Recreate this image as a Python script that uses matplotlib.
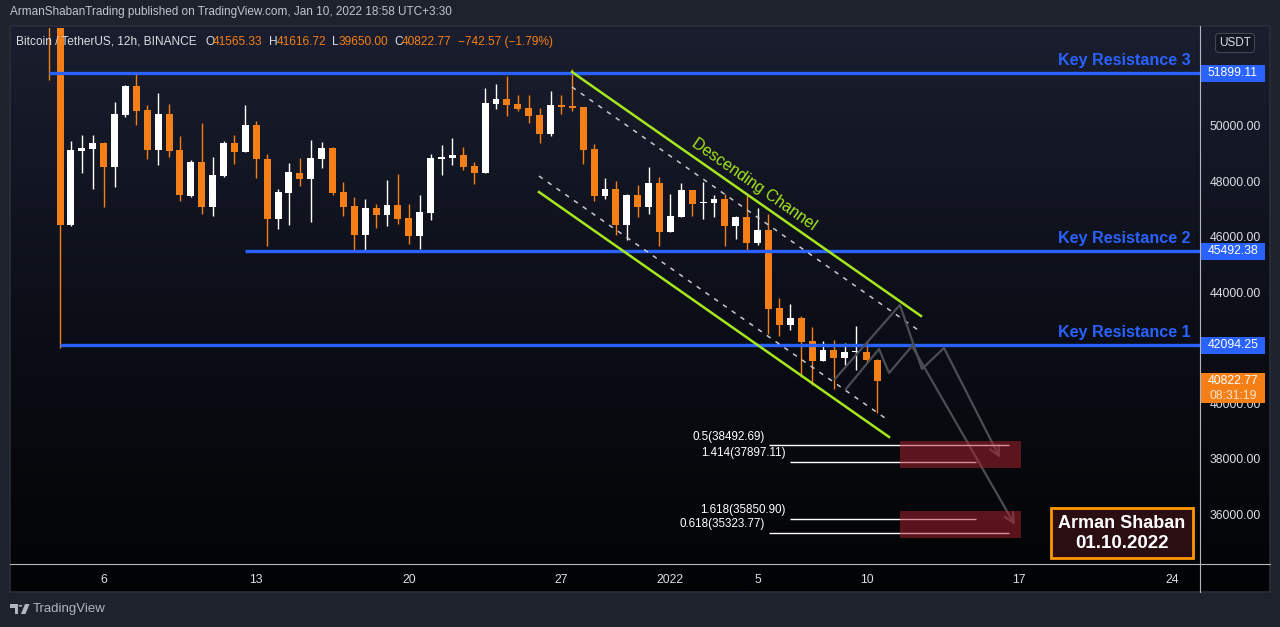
import numpy as np
import matplotlib.pyplot as plt
import matplotlib.transforms as mtransforms
from matplotlib.patches import Rectangle, Polygon, Circle
from matplotlib.colors import LinearSegmentedColormap

plt.rcParams['font.family'] = ['Liberation Sans', 'DejaVu Sans']

# BTCUSDT 12h candles, first candle opens 2021-12-03 12:00
start = np.datetime64('2021-12-03T12:00')
opens = [56500, 53600, 46430, 49100, 49170, 49390, 48520, 50400, 51440, 50580,
         49140, 50430, 49140, 47480, 48700, 47080, 48200, 49390, 49060, 50040,
         48810, 46650, 47590, 48310, 48090, 48810, 49210, 47620, 47120, 46070,
         47050, 46790, 47160, 46690, 46040, 46870, 48810, 48850, 48960, 48560,
         48310, 50790, 50970, 50790, 50650, 50400, 49710, 50760, 50720, 50690,
         49170, 47480, 47730, 46430, 47510, 47080, 47950, 46180, 46720, 47690,
         47230, 47230, 47370, 46400, 46720, 45790, 46250, 43440, 42830, 43080,
         42250, 41530, 41930, 41640, 41840, 41860, 41565.33]
highs = [57300, 53900, 49460, 49680, 49680, 49420, 50870, 51480, 51910, 50760,
         51190, 50790, 49640, 48780, 50110, 48880, 49460, 49680, 50760, 50180,
         48990, 47730, 48670, 48850, 49500, 49420, 49240, 47980, 47440, 47370,
         47190, 48060, 48270, 47190, 47510, 48990, 49320, 49570, 49240, 48700,
         51370, 51510, 51800, 51120, 51120, 50650, 51260, 51120, 52050, 50700,
         49350, 48130, 48020, 47550, 47880, 48520, 48160, 47550, 47950, 47700,
         47980, 47510, 47550, 46760, 47510, 47050, 46830, 43800, 43590, 43150,
         42760, 42250, 42290, 42180, 42790, 42250, 41616.72]
lows = [51650, 42000, 46400, 48320, 47730, 47080, 47800, 50330, 50040, 48810,
        48600, 48880, 47300, 47440, 46830, 46760, 48160, 48630, 49060, 48130,
        45680, 46290, 46430, 47840, 46540, 48490, 47510, 46760, 45460, 45500,
        46330, 46400, 46470, 45750, 45570, 46610, 48240, 48600, 48420, 47910,
        48300, 50610, 50360, 50540, 50110, 49390, 49640, 50430, 50540, 48630,
        47300, 47370, 46070, 45890, 46720, 46830, 45680, 46170, 46710, 46760,
        46650, 46720, 45680, 45930, 45500, 45710, 42510, 42430, 42650, 40960,
        40670, 41520, 40520, 41390, 41210, 41460, 39650.00]
closes = [53600, 46430, 49140, 49210, 49390, 48520, 50430, 51440, 50540, 49140,
          50430, 49100, 47510, 48700, 47080, 48240, 49390, 49060, 50040, 48810,
          46650, 47620, 48340, 48090, 48850, 49210, 47590, 47080, 46070, 47050,
          46790, 47160, 46650, 46040, 46900, 48850, 48880, 48960, 48520, 48310,
          50830, 50970, 50760, 50610, 50360, 49710, 50760, 50690, 50650, 49140,
          47480, 47730, 46430, 47510, 47080, 47950, 46180, 46760, 47690, 47190,
          47260, 47370, 46400, 46720, 45790, 46250, 43410, 42830, 43080, 42220,
          41530, 41930, 41640, 41860, 41860, 41565, 40822.77]

tick_dates = ['2021-12-06', '2021-12-13', '2021-12-20', '2021-12-27', '2022-01-01',
              '2022-01-05', '2022-01-10', '2022-01-17', '2022-01-24']
tick_labels = ['6', '13', '20', '27', '2022', '5', '10', '17', '24']
price_ticks = [36000, 38000, 40000, 44000, 46000, 48000, 50000]

levels = [51899.11, 45492.38, 42094.25]
level_names = ['Key Resistance 3', 'Key Resistance 2', 'Key Resistance 1']
level_start = [0, 18, 1]

fib_labels = ['0.5(38492.69)', '1.414(37897.11)', '1.618(35850.90)', '0.618(35323.77)']
fib_prices = [38492.69, 37897.11, 35850.90, 35323.77]
fib_x0 = [66.05, 67.97, 67.97, 66.05]
fib_x1 = [88.06, 85.04, 85.04, 88.06]

zone_tops = [38648, 36125]
zone_bottoms = [37674, 35152]
zone_x = [78.06, 89.17]

chan_upper_x, chan_upper_y = [47.97, 79.99], [51946, 43152]
chan_lower_x, chan_lower_y = [44.94, 77.06], [47621, 38792]
dash_upper_x, dash_upper_y = [47.97, 79.72], [51406, 42648]
dash_lower_x, dash_lower_y = [44.94, 76.69], [48198, 39476]

path1_x = [72.10, 78.06, 80.08, 82.10, 87.24]
path1_y = [40882, 43549, 41242, 42001, 38035]
path2_x = [73.11, 76.14, 77.06, 79.17, 88.61]
path2_y = [40521, 41963, 41098, 42071, 35620]

ORANGE = '#f57f17'
BLUE = '#2962ff'
LIME = '#a5e61e'
TXT = '#dcdee5'

W, H = 1280, 627
fig = plt.figure(figsize=(12.8, 6.27), dpi=100)
fig.patch.set_facecolor('#1e222d')


def fx(px):
    return px / W


def fy(py):
    return 1 - py / H


# panel background gradient
bg = fig.add_axes([fx(10), fy(592), fx(1260), (592 - 26) / H])
cmap = LinearSegmentedColormap.from_list('bg', ['#1a1e2e', '#0c0f18', '#020304'])
bg.imshow(np.linspace(0, 1, 256).reshape(-1, 1), aspect='auto', cmap=cmap,
          extent=[0, 1, 0, 1])
bg.axis('off')
fig.add_artist(Rectangle((fx(10), fy(592)), fx(1260), (592 - 26) / H,
                         transform=fig.transFigure, fc='none', ec='#2a2e39', lw=1.2))

ax = fig.add_axes([fx(10), fy(564), 1190 / W, 536 / H])
ax.set_facecolor('none')
for s in ax.spines.values():
    s.set_visible(False)

# candles
n = len(opens)
for i in range(n):
    o, h, l, c = opens[i], highs[i], lows[i], closes[i]
    col = ORANGE if c < o else 'white'
    ax.vlines(i, l, h, color=col, lw=1, zorder=3)
    ax.bar(i, max(abs(c - o), 45), bottom=min(o, c), width=0.64, color=col,
           lw=0, zorder=3)

# key resistance levels
for p, name, x0 in zip(levels, level_names, level_start):
    ax.hlines(p, x0, 106, color=BLUE, lw=2.4, zorder=4)
    ax.text(104.76, p + 200, name, color=BLUE, fontsize=11.6, fontweight='bold',
            ha='right', va='bottom', zorder=4)

# descending channel
ax.plot(chan_upper_x, chan_upper_y, color=LIME, lw=1.8, zorder=4)
ax.plot(chan_lower_x, chan_lower_y, color=LIME, lw=1.8, zorder=4)
ax.plot(dash_upper_x, dash_upper_y, color='#c8c9cc', lw=1.1, ls=(0, (3, 4)), zorder=4)
ax.plot(dash_lower_x, dash_lower_y, color='#c8c9cc', lw=1.1, ls=(0, (3, 4)), zorder=4)
ax.text(64.7, 47910, 'Descending Channel', color=LIME, fontsize=11.5,
        rotation=-35, rotation_mode='anchor', ha='center', va='center', zorder=4)

# projected path
PATH_COL = '#4a4d55'
for px_, py_ in [(path1_x, path1_y), (path2_x, path2_y)]:
    ax.plot(px_[:-1], py_[:-1], color=PATH_COL, lw=1.6, zorder=4)
    ax.annotate('', xy=(px_[-1], py_[-1]), xytext=(px_[-2], py_[-2]),
                arrowprops=dict(arrowstyle='->,head_length=0.7,head_width=0.35',
                                color=PATH_COL, lw=1.6, shrinkA=0, shrinkB=0),
                zorder=4)

# fib levels and target zones
for lab, p, a, b in zip(fib_labels, fib_prices, fib_x0, fib_x1):
    ax.hlines(p, a, b, color='white', lw=1, zorder=4)
    ax.annotate(lab, xy=(a, p), xytext=(-3, 2), textcoords='offset points',
                ha='right', va='bottom', color='white', fontsize=8.4, zorder=4)
for t, b in zip(zone_tops, zone_bottoms):
    ax.add_patch(Rectangle((zone_x[0], b), zone_x[1] - zone_x[0], t - b,
                           fc='#b0222e', ec='none', alpha=0.5, zorder=5))

ax.set_xlim(-3.59, 105.59)
ax.set_ylim(34214, 53532)

# axes ticks
tick_pos = [(np.datetime64(d + 'T00:00') - start) / np.timedelta64(12, 'h')
            for d in tick_dates]
ax.set_xticks(tick_pos)
ax.set_xticklabels(tick_labels)
ax.set_yticks(price_ticks)
ax.set_yticklabels([f'{v:.2f}' for v in price_ticks])
ax.yaxis.tick_right()
ax.tick_params(axis='both', length=0, colors=TXT, labelsize=8.8)
ax.tick_params(axis='y', pad=7)
ax.tick_params(axis='x', pad=7)

# separators
fig.add_artist(plt.Line2D([fx(1200), fx(1200)], [fy(26), fy(592)], color='#b2b5be', lw=0.8))
fig.add_artist(plt.Line2D([fx(10), fx(1270)], [fy(564), fy(564)], color='#b2b5be', lw=0.8))

# price labels on axis
blend = mtransforms.blended_transform_factory(fig.transFigure, ax.transData)
k = (53532 - 34214) / 536
for p in levels:
    ax.add_patch(Rectangle((fx(1200), p - 8.5 * k), fx(65), 17 * k, transform=blend,
                           fc=BLUE, ec='none', zorder=6, clip_on=False))
    ax.text(fx(1233), p, f'{p:.2f}', transform=blend, ha='center', va='center',
            color='white', fontsize=8.8, zorder=7, clip_on=False)
last = closes[-1]
ax.add_patch(Rectangle((fx(1200), last - 22.4 * k), fx(65), 30 * k, transform=blend,
                       fc=ORANGE, ec='none', zorder=6, clip_on=False))
ax.text(fx(1233), last, f'{last:.2f}', transform=blend, ha='center', va='center',
        color='white', fontsize=8.8, zorder=7, clip_on=False)
ax.text(fx(1233), last - 15 * k, '08:31:19', transform=blend, ha='center', va='center',
        color='#ffe3c8', fontsize=8.8, zorder=7, clip_on=False)
fig.text(fx(1235), fy(43), 'USDT', ha='center', va='center', color=TXT, fontsize=8.5,
         bbox=dict(boxstyle='round,pad=0.3', fc='#131722', ec='#434651', lw=0.8))

# header
fig.text(fx(10), fy(12), 'ArmanShabanTrading published on TradingView.com, Jan 10, 2022 18:58 UTC+3:30',
         color='#c3c6ce', fontsize=8.5, va='center')
legend_parts = [(16, 'Bitcoin / TetherUS, 12h, BINANCE', TXT), (205, 'O', TXT),
                (213, '41565.33', ORANGE), (269, 'H', TXT), (277, '41616.72', ORANGE),
                (332, 'L', TXT), (339, '39650.00', ORANGE), (394, 'C', TXT),
                (402, '40822.77', ORANGE), (458, '\u2212742.57 (\u22121.79%)', ORANGE)]
for px_, s, col in legend_parts:
    fig.text(fx(px_), fy(42), s, color=col, fontsize=8.6, va='center')

# signature box
fig.add_artist(Rectangle((fx(1051), fy(558)), fx(142), 50 / H, transform=fig.transFigure,
                         fc='#2b0e12', ec='#ff9800', lw=2))
fig.text(fx(1122), fy(523), 'Arman Shaban', color='white', fontsize=13,
         fontweight='bold', ha='center', va='center')
fig.text(fx(1122), fy(544), '01.10.2022', color='white', fontsize=13.5,
         fontweight='bold', ha='center', va='center')

# TradingView footer
logo_col = '#b2b5be'
fig.add_artist(Polygon([(fx(10), fy(604)), (fx(18), fy(604)), (fx(18), fy(614)),
                        (fx(14.5), fy(614)), (fx(14.5), fy(607.5)), (fx(10), fy(607.5))],
                       closed=True, transform=fig.transFigure, fc=logo_col, ec='none'))
fig.add_artist(Circle((fx(20.5), fy(605.8)), 1.8 / W, transform=fig.transFigure,
                      fc=logo_col, ec='none'))
fig.add_artist(Polygon([(fx(25), fy(604)), (fx(29.5), fy(604)), (fx(25.5), fy(614)),
                        (fx(21), fy(614))], closed=True, transform=fig.transFigure,
                       fc=logo_col, ec='none'))
fig.text(fx(33), fy(609), 'TradingView', color=logo_col, fontsize=9.5, va='center')

fig.savefig('out.png', dpi=100, facecolor=fig.get_facecolor())
